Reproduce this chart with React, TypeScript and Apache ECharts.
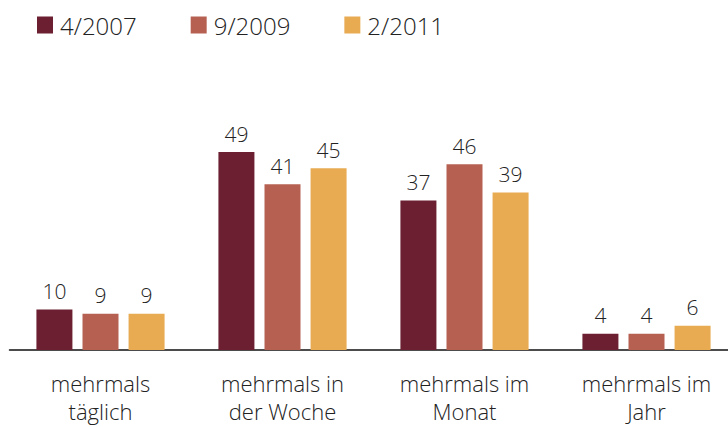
import React, { useEffect, useRef } from "react";
import * as echarts from "echarts";

const categories = ["mehrmals\ntäglich", "mehrmals in\nder Woche", "mehrmals im\nMonat", "mehrmals im\nJahr"];
const seriesNames = ["4/2007", "9/2009", "2/2011"];
const values2007 = [10, 49, 37, 4];
const values2009 = [9, 41, 46, 4];
const values2011 = [9, 45, 39, 6];
const colors = ["#6B1F31", "#B66051", "#E8AB52"];

const FONT = "'Open Sans', 'Noto Sans', sans-serif";

export default function App() {
  const ref = useRef<HTMLDivElement>(null);
  useEffect(() => {
    if (!ref.current) return;
    const chart = echarts.init(ref.current, undefined, { renderer: "svg" });
    const data = [values2007, values2009, values2011];
    chart.setOption({
      animation: false,
      color: colors,
      legend: {
        left: 32,
        top: 8,
        icon: "rect",
        itemWidth: 16,
        itemHeight: 17,
        itemGap: 54,
        textStyle: { fontFamily: FONT, fontWeight: 300, fontSize: 24, color: "#222", padding: [0, 0, 0, 2] },
        data: seriesNames,
      },
      grid: { left: 9.5, right: 2.5, top: 148, bottom: 77, containLabel: false },
      xAxis: {
        type: "category",
        data: categories,
        axisLine: { show: true, lineStyle: { color: "#111", width: 1.5 } },
        axisTick: { show: false },
        axisLabel: {
          fontFamily: FONT,
          fontWeight: 300,
          fontSize: 22,
          color: "#222",
          lineHeight: 28,
          margin: 19,
          interval: 0,
        },
      },
      yAxis: {
        type: "value",
        min: 0,
        max: 50,
        show: false,
        splitLine: { show: false },
      },
      series: seriesNames.map((name, i) => ({
        name,
        type: "bar",
        data: data[i],
        barWidth: 36,
        barGap: "28%",
        itemStyle: { color: colors[i] },
        label: {
          show: true,
          position: "top",
          distance: 8,
          fontFamily: FONT,
          fontWeight: 300,
          fontSize: 21,
          color: "#222",
        },
      })),
    });
    return () => chart.dispose();
  }, []);
  return (
    <div style={{ width: 728, height: 427, position: "absolute", left: 0, top: 0, overflow: "hidden" }}>
      <div ref={ref} style={{ width: 740, height: 427 }} />
    </div>
  );
}
